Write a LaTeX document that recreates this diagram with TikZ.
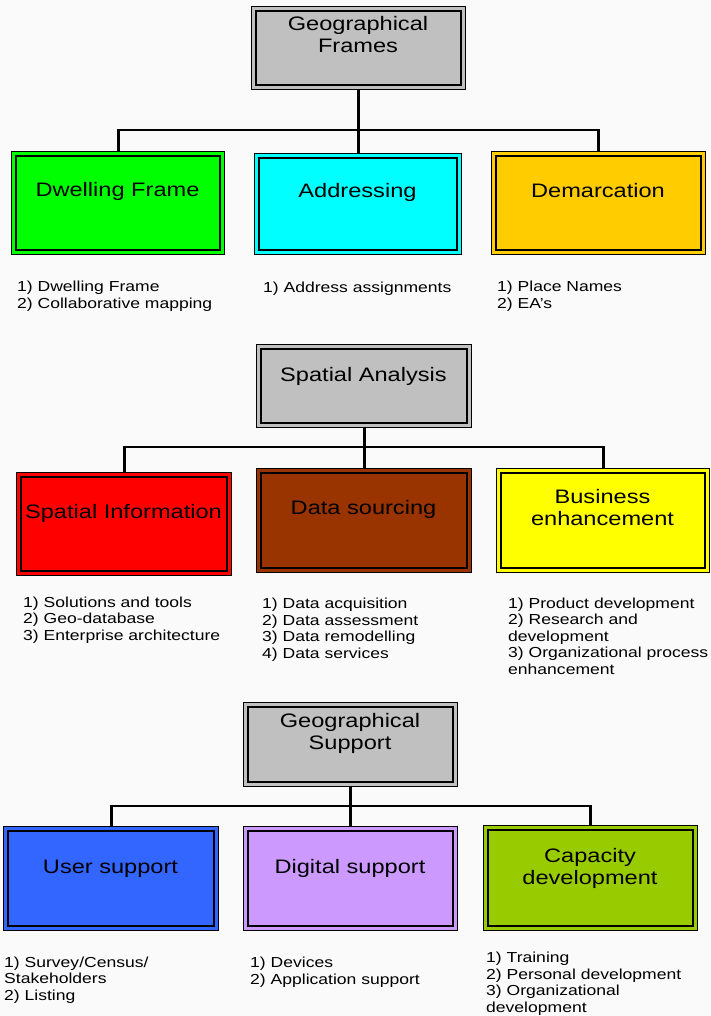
\documentclass[tikz,border=0pt]{standalone}
\usepackage{fontspec}
\setmainfont[FakeStretch=1.21]{Liberation Sans}
\definecolor{bggray}{HTML}{FAFAFA}
\definecolor{boxgray}{HTML}{C0C0C0}
\definecolor{cgreen}{HTML}{00FF00}
\definecolor{ccyan}{HTML}{00FFFF}
\definecolor{corange}{HTML}{FFCC00}
\definecolor{cred}{HTML}{FF0000}
\definecolor{cbrown}{HTML}{993300}
\definecolor{cyellow}{HTML}{FFFF00}
\definecolor{cblue}{HTML}{3366FF}
\definecolor{clilac}{HTML}{CC99FF}
\definecolor{colive}{HTML}{99CC00}
\tikzset{
  outerbox/.style={draw=black, line width=1.2pt, rectangle, inner sep=0pt, anchor=north west},
  innerbox/.style={draw=black, line width=2pt},
  titletext/.style={font=\fontsize{19.5}{22}\selectfont, align=center, inner sep=0pt, anchor=base},
  listtext/.style={font=\fontsize{14.5}{16.5}\selectfont, align=left, inner sep=0pt, anchor=base west},
  conn/.style={line width=2.8pt, line join=miter}
}
\newcommand\dblbox[6]{%
  \node[outerbox, fill=#6, minimum width={(#4-#2)*1pt}, minimum height={(#5-#3)*1pt}] (#1) at (#2,#3) {};
  \draw[innerbox] ([shift={(5pt,-5pt)}]#1.north west) rectangle ([shift={(-5pt,5pt)}]#1.south east);
}
\begin{document}
\begin{tikzpicture}[x=1pt,y=-1pt]
\useasboundingbox[fill=bggray] (0,0) rectangle (710,1016);

% (multi-line text nodes are placed by the baseline of their last line)

% ---------- Section 1 ----------
\dblbox{gf}{251}{6}{465}{89}{boxgray}
\dblbox{df}{11}{151}{224}{254}{cgreen}
\dblbox{ad}{254}{153}{461}{254}{ccyan}
\dblbox{dm}{491}{151}{705}{254}{corange}
\coordinate (h1) at (0,130);
\draw[conn] (gf.south) -- (gf.south |- ad.north);
\draw[conn] (df.north) |- (dm.north |- h1) -- (dm.north);

\node[titletext] (tgf) at (358,53) {Geographical\\Frames};
\node[titletext] (tdf) at (117.5,197) {Dwelling Frame};
\node[titletext] (tad) at (357.5,198) {Addressing};
\node[titletext] (tdm) at (598,198) {Demarcation};

\node[listtext] (ldf) at (17,308) {1) Dwelling Frame\\2) Collaborative mapping};
\node[listtext] (lad) at (263,292) {1) Address assignments};
\node[listtext] (ldm) at (497,308) {1) Place Names\\2) EA’s};

% ---------- Section 2 ----------
\dblbox{sa}{256}{344}{471}{427}{boxgray}
\dblbox{si}{16}{472}{231}{575}{cred}
\dblbox{ds}{256}{468}{471}{572}{cbrown}
\dblbox{be}{496}{468}{709}{572}{cyellow}
\coordinate (h2) at (0,447);
\draw[conn] (sa.south) -- (sa.south |- ds.north);
\draw[conn] (si.north) |- (be.north |- h2) -- (be.north);

\node[titletext] (tsa) at (363.5,381) {Spatial Analysis};
\node[titletext] (tsi) at (123.5,518) {Spatial Information};
\node[titletext] (tds) at (363.5,514) {Data sourcing};
\node[titletext] (tbe) at (602.5,525) {Business\\enhancement};

\node[listtext] (lsi) at (23,640) {1) Solutions and tools\\2) Geo-database\\3) Enterprise architecture};
\node[listtext] (lds) at (262,658) {1) Data acquisition\\2) Data assessment\\3) Data remodelling\\4) Data services};
\node[listtext] (lbe) at (508,674) {1) Product development\\2) Research and\\development\\3) Organizational process\\enhancement};

% ---------- Section 3 ----------
\dblbox{gs}{243}{702}{457}{786}{boxgray}
\dblbox{us}{3}{826}{218}{930}{cblue}
\dblbox{dg}{243}{826}{457}{930}{clilac}
\dblbox{cd}{483}{825}{697}{930}{colive}
\coordinate (h3) at (0,806);
\draw[conn] (gs.south) -- (gs.south |- dg.north);
\draw[conn] (us.north) |- (cd.north |- h3) -- (cd.north);

\node[titletext] (tgs) at (350,749) {Geographical\\Support};
\node[titletext] (tus) at (110.5,873) {User support};
\node[titletext] (tdg) at (350,873) {Digital support};
\node[titletext] (tcd) at (590,884) {Capacity\\development};

\node[listtext] (lus) at (4,1000) {1) Survey/Census/\\Stakeholders\\2) Listing};
\node[listtext] (ldg) at (250,984) {1) Devices\\2) Application support};
\node[listtext] (lcd) at (486,1012) {1) Training\\2) Personal development\\3) Organizational\\development};
\end{tikzpicture}
\end{document}
